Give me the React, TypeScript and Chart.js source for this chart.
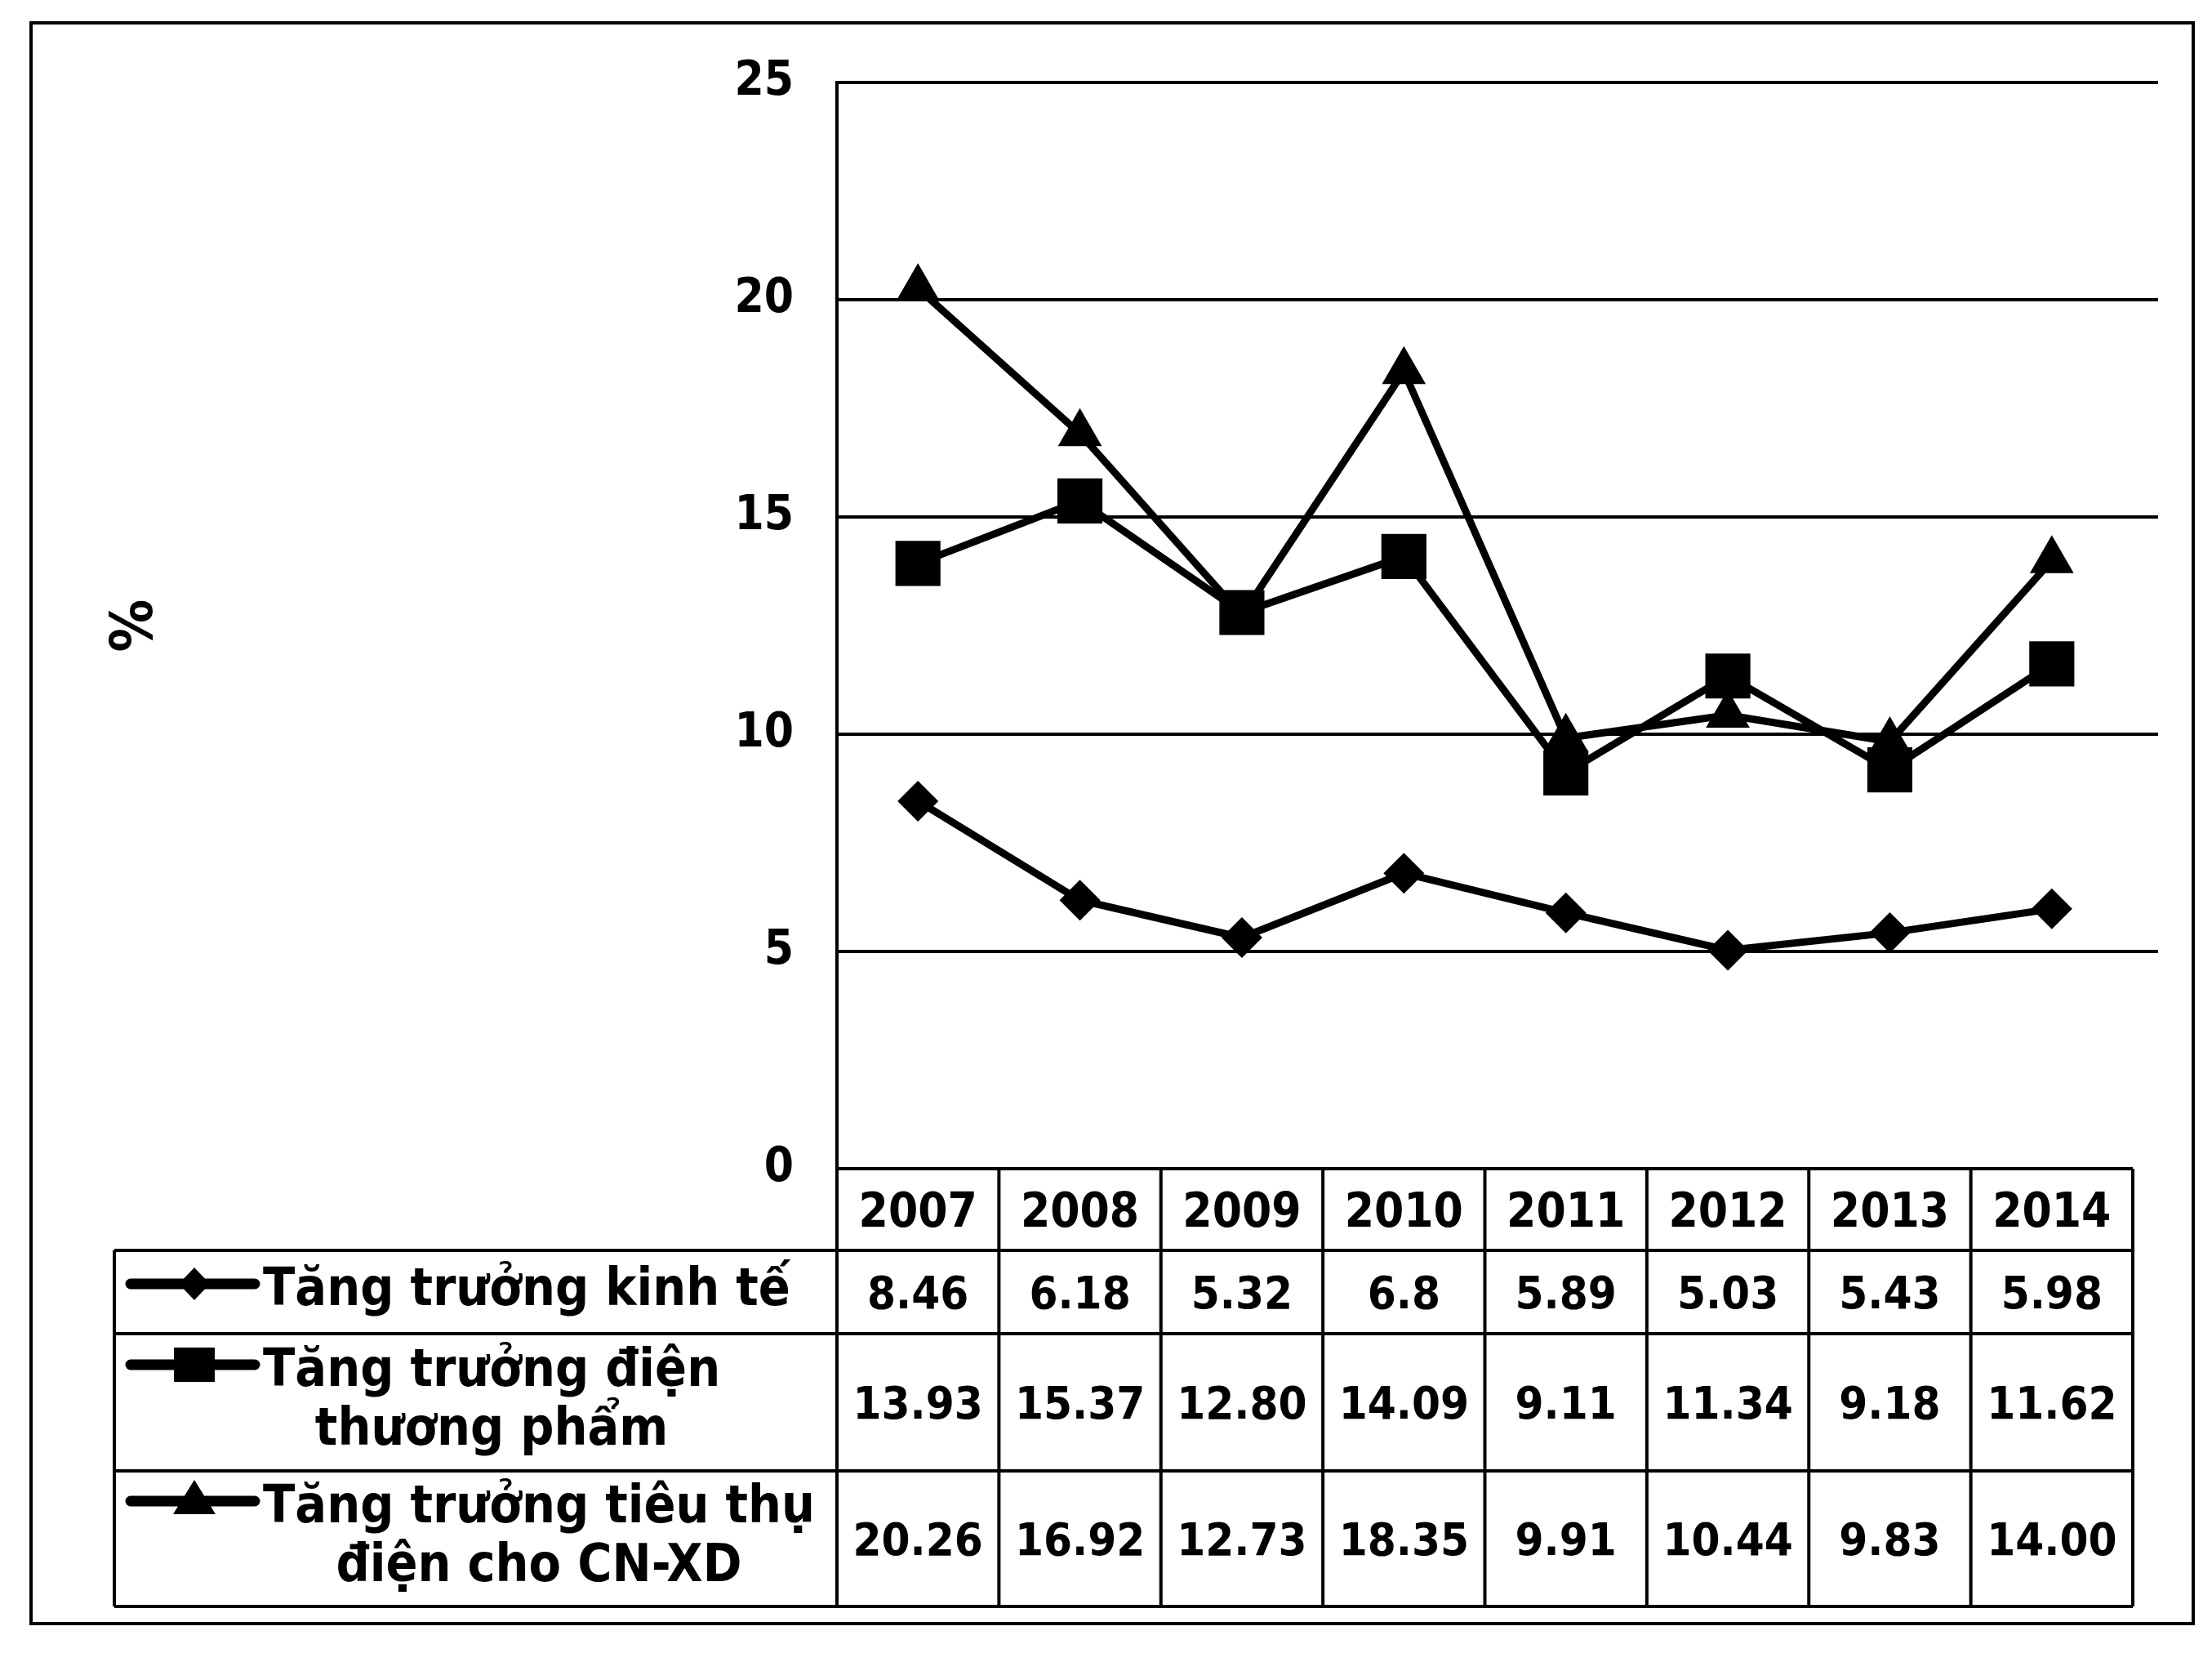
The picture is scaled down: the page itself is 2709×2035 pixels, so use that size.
import { useEffect, useRef } from 'react';
import { Chart, registerables } from 'chart.js';

Chart.register(...registerables);

// ---- data ----
const years = ['2007', '2008', '2009', '2010', '2011', '2012', '2013', '2014'];
const tangTruongKinhTe = [8.46, 6.18, 5.32, 6.8, 5.89, 5.03, 5.43, 5.98];
const tangTruongDienThuongPham = [13.93, 15.37, 12.8, 14.09, 9.11, 11.34, 9.18, 11.62];
const tangTruongTieuThuCNXD = [20.26, 16.92, 12.73, 18.35, 9.91, 10.44, 9.83, 14.0];
const seriesLabels = [
  ['Tăng trưởng kinh tế'],
  ['Tăng trưởng điện', 'thương phẩm'],
  ['Tăng trưởng tiêu thụ', 'điện cho CN-XD'],
];
const seriesDecimals = [-1, 2, 2];
const yTickValues = [0, 5, 10, 15, 20, 25];
const yAxisTitle = '%';

const FAMILY = "'DejaVu Sans Condensed', 'DejaVu Sans', sans-serif";
const W = 2709;
const H = 2035;

const pointStyles = ['rectRot', 'rect', 'triangle'] as const;
const pointRadii = [25, 39, 31];

function drawKey(ctx: CanvasRenderingContext2D, style: string, cx: number, cy: number) {
  ctx.save();
  ctx.strokeStyle = '#000';
  ctx.fillStyle = '#000';
  ctx.lineWidth = 13;
  ctx.lineCap = 'round';
  ctx.beginPath();
  ctx.moveTo(cx - 78, cy);
  ctx.lineTo(cx + 74, cy);
  ctx.stroke();
  ctx.beginPath();
  if (style === 'rectRot') {
    ctx.moveTo(cx - 19, cy);
    ctx.lineTo(cx, cy - 20);
    ctx.lineTo(cx + 19, cy);
    ctx.lineTo(cx, cy + 20);
  } else if (style === 'rect') {
    ctx.rect(cx - 25, cy - 21, 50, 42);
  } else {
    ctx.moveTo(cx, cy - 26);
    ctx.lineTo(cx + 26, cy + 16);
    ctx.lineTo(cx - 26, cy + 16);
  }
  ctx.closePath();
  ctx.fill();
  ctx.restore();
}

const tablePlugin = {
  id: 'tablePlugin',
  beforeDraw(chart: any) {
    const { ctx } = chart;
    ctx.save();
    ctx.fillStyle = '#fff';
    ctx.fillRect(0, 0, chart.width, chart.height);
    ctx.restore();
  },
  afterDraw(chart: any) {
    const { ctx, chartArea } = chart;
    const x = chart.scales.x;
    const y = chart.scales.y;
    const series = [tangTruongKinhTe, tangTruongDienThuongPham, tangTruongTieuThuCNXD];
    ctx.save();
    ctx.strokeStyle = '#000';
    ctx.fillStyle = '#000';

    // outer frame
    ctx.lineWidth = 4;
    ctx.strokeRect(38, 28, 2648, 1960);

    // gridline extension to the right
    ctx.lineWidth = 4;
    for (const v of yTickValues) {
      if (v === 0) continue;
      const py = y.getPixelForValue(v);
      ctx.beginPath();
      ctx.moveTo(chartArea.right - 2, py);
      ctx.lineTo(chartArea.right + 31, py);
      ctx.stroke();
    }

    // table geometry
    const colW = (chartArea.right - chartArea.left) / years.length;
    const colL = (i: number) => x.getPixelForValue(i) - colW / 2;
    const tableLeft = colL(0);
    const tableRight = colL(years.length - 1) + colW;
    const legendLeft = 140;
    const top0 = chartArea.bottom;
    const rowH = [100, 102, 168, 166];
    const rowTops: number[] = [top0];
    for (const h of rowH) rowTops.push(rowTops[rowTops.length - 1] + h);
    const bottom = rowTops[rowTops.length - 1];

    ctx.lineWidth = 4;
    ctx.beginPath();
    ctx.moveTo(tableLeft, top0);
    ctx.lineTo(tableRight, top0);
    for (let r = 1; r < rowTops.length; r++) {
      ctx.moveTo(legendLeft, rowTops[r]);
      ctx.lineTo(tableRight, rowTops[r]);
    }
    ctx.moveTo(legendLeft, rowTops[1]);
    ctx.lineTo(legendLeft, bottom);
    for (let i = 0; i <= years.length; i++) {
      const cx = tableLeft + i * colW;
      ctx.moveTo(cx, top0);
      ctx.lineTo(cx, bottom);
    }
    ctx.stroke();

    // header years
    ctx.textAlign = 'center';
    ctx.textBaseline = 'alphabetic';
    ctx.font = `bold 58px ${FAMILY}`;
    const hc = (rowTops[0] + rowTops[1]) / 2;
    years.forEach((yr, i) => {
      ctx.fillText(yr, x.getPixelForValue(i), hc + 21);
    });

    // values
    ctx.font = `bold 56px ${FAMILY}`;
    series.forEach((vals, s) => {
      const rc = (rowTops[s + 1] + rowTops[s + 2]) / 2;
      vals.forEach((v, i) => {
        const d = seriesDecimals[s];
        const txt = d < 0 ? String(v) : v.toFixed(d);
        ctx.fillText(txt, x.getPixelForValue(i), rc + 20);
      });
    });

    // legend labels with keys
    ctx.font = `bold 64px ${FAMILY}`;
    seriesLabels.forEach((lines, s) => {
      const rc = (rowTops[s + 1] + rowTops[s + 2]) / 2;
      const lineGap = 72;
      const firstCenter = rc - ((lines.length - 1) * lineGap) / 2 - 8;
      const startX = 322;
      const w0 = ctx.measureText(lines[0]).width;
      const centerX = startX + w0 / 2;
      lines.forEach((ln, li) => {
        const cy = firstCenter + li * lineGap;
        if (li === 0) {
          ctx.textAlign = 'left';
          ctx.fillText(ln, startX, cy + 24);
        } else {
          ctx.textAlign = 'center';
          ctx.fillText(ln, centerX, cy + 24);
        }
      });
      drawKey(ctx, pointStyles[s], 238, firstCenter - 2);
    });
    ctx.restore();
  },
};

export default function App() {
  const ref = useRef<HTMLCanvasElement | null>(null);
  useEffect(() => {
    if (!ref.current) return;
    const mk = (data: number[], i: number) => ({
      label: seriesLabels[i].join(' '),
      data,
      borderColor: '#000',
      backgroundColor: '#000',
      borderWidth: 9,
      pointStyle: pointStyles[i],
      pointRadius: pointRadii[i],
      pointBorderWidth: 0,
      pointBackgroundColor: '#000',
      tension: 0,
    });
    const chart = new Chart(ref.current, {
      type: 'line',
      data: {
        labels: years,
        datasets: [
          mk(tangTruongKinhTe, 0),
          mk(tangTruongDienThuongPham, 1),
          mk(tangTruongTieuThuCNXD, 2),
        ],
      },
      options: {
        animation: false,
        responsive: false,
        devicePixelRatio: 1,
        layout: { padding: { left: 0, top: 101, right: 97, bottom: 604 } },
        plugins: { legend: { display: false }, tooltip: { enabled: false }, title: { display: false } },
        scales: {
          x: { type: 'category', offset: true, display: false },
          y: {
            min: 0,
            max: 25,
            afterBuildTicks: (scale: any) => {
              scale.ticks = yTickValues.map((v) => ({ value: v }));
            },
            afterFit: (scale: any) => {
              scale.width = 1025;
            },
            grid: { display: true, color: '#000', lineWidth: 4, drawTicks: false },
            border: { display: true, color: '#000', width: 4 },
            ticks: {
              color: '#000',
              padding: 53,
              font: { family: FAMILY, size: 58, weight: 'bold' },
            },
            title: {
              display: true,
              text: yAxisTitle,
              color: '#000',
              font: { family: FAMILY, size: 72, weight: 'bold' },
              padding: { top: 124, bottom: 0 },
            },
          },
        },
      },
      plugins: [tablePlugin],
    } as any);
    return () => chart.destroy();
  }, []);
  return (
    <div style={{ position: 'fixed', left: 0, top: 0, width: W, height: H, background: '#fff' }}>
      <canvas ref={ref} width={W} height={H} style={{ width: W, height: H, display: 'block' }} />
    </div>
  );
}
